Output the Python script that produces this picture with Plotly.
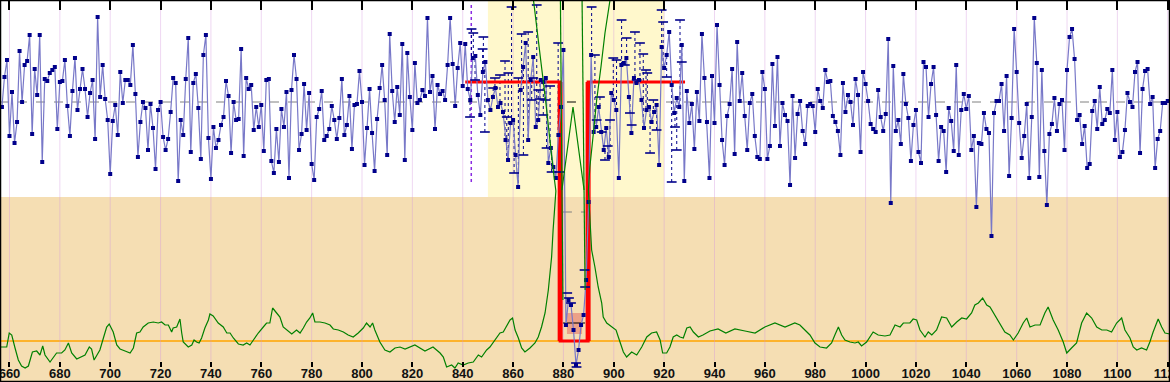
import plotly.graph_objects as go

# ---------------- data ----------------
x_start = 657
blue_v = [
    -5,25,42,-34,10,-41,-20,51,0,37, 41,67,-32,33,7,67,-60,23,21,29,
    32,35,-27,20,21,42,-4,-34,11,44, -8,13,33,13,-15,9,22,-37,85,5,
    37,3,-18,-72,-19,-3,-33,30,-1,22, 22,17,57,8,-55,-20,0,-6,-48,-2,
    -26,-67,-8,0,-35,-48,-37,-10,24,19, -79,-18,-33,23,64,-50,19,28,-6,-57,
    47,67,-36,-77,-25,-46,-38,-23,-15,21, 6,-51,0,-18,-17,53,-54,24,13,17,
    -28,-5,-25,-3,-49,22,23,-59,-71,-27, -60,-7,-25,10,-76,12,47,23,-48,
    -32,18,-28,9,-62,-78,-15,-7,11,-38, -34,-27,-4,-18,-37,-16,23,-33,-23,6,
    -47,-3,-2,31,0,-63,-26,13,-31,-69, -17,14,37,2,-53,68,11,-20,15,-13,
    58,-58,49,5,-28,39,-1,2,12,6, 84,10,26,-27,17,8,11,2,37,84,
    38,-4,34,59,16,58,13,
    2,44,46,7,-13,30,40,2,-8,5, 14,-5,-1,-10,-38,-58,-21,-18,-53,-85,
    12,35,59,-38,22,45,-25,-18,22,20, 24,-61,-46,-65,-76,-33,-5,52,
    -223,-198,-203,-228,-263,-248,-223,-213,-178,-100,
    47,-30,-25,-5,-30,-48,-26,-55,9,2, -8,-76,37,39,44,5,-31,24,19,22,
    2,-26,-8,-5,-20,-10,-3,-63,55,34, 47,70,17,-11,4,-5,57,
    -79,11,-21,-2,-47,10,-19,68,24,-20, -76,26,-21,77,17,-38,-63,-14,-2,33,
    -52,60,1,29,-14,-48,-1,8,-34,-55, -57,30,13,-57,-44,38,-24,45,-44,-1,
    -13,-19,-83,6,-56,-12,1,-29,-42,-4, -2,-4,-30,13,1,-6,32,20,21,-14,
    -20,-29,-53,19,-10,7,0,-23,23,7, -50,30,18,1,-22,-27,-30,12,-15,-29,
    -12,63,-101,36,-29,-18,-42,28,-2,-16, -59,-23,-8,-50,-61,40,35,-15,18,35,
    -13,-59,-25,-29,-70,-6,-19,-49,37,-53, -8,8,-7,6,-48,-34,-105,-41,-42,-11,
    -27,-31,-134,-11,1,1,18,-29,26,-74, -16,73,30,-21,-56,-34,-2,-76,-15,84,
    39,-75,32,-49,-103,
    -32,-22,4,-29,-2,2,-48,32,65,73, 43,-18,-13,-42,-24,-66,-62,-9,1,-27,
    15,-22,-18,-7,-11,32,-38,-10,-55,-50, -28,9,0,-5,30,40,-51,13,31,33,
    -2,5,-66,-37,-29,-1,-1,1,
]
blue_x = [x_start + i for i in range(len(blue_v))]

# short horizontal dash markers inside the highlighted window
dash_x = [843.5,844.2,842.9,844.9,847.9,848.2,848.8,852.1,852.8,854.8,856.8,857.5,858.1,
          859.4,860.4,862.1,863.4,864.1,866.0,867.4,868.0,869.4,870.0,870.7,872.0,872.7,
          873.3,874.7,875.3,877.9,878.6,
          891.2,892.5,893.2,894.5,895.2,896.5,897.6,898.5,899.8,901.1,903.1,904.4,905.1,
          906.4,907.1,908.4,909.1,910.4,911.7,912.8,913.3,914.4,915.7,917.0,919.0,919.6,
          921.0,923.0,924.3,925.0,926.3,927.0]
dash_v = [73,69,-15,22,53,65,-30,14,24,27,41,-15,29,95,-71,24,68,-53,70,2,24,97,12,3,-13,2,
          -46,16,-70,59,-70,
          95,47,-18,5,-30,-58,-44,-18,44,42,82,37,64,-11,-23,70,22,59,48,32,29,-51,2,-28,
          92,80,25,-80,-25,-48,82,40]
gap_dash_x = [881.5,882.2,883.0,888.4,888.6,885.0,885.2]
gap_dash_v = [-191,-196,-201,-168,-185,-261,-265]

# red step outline (window level)
red_x = [841, 878.7, 878.7, 889.8, 889.8, 928.3]
red_v = [20, 20, -239, -239, 20, 20]

# green curve (lower panel scale, 0 = orange reference line)
green_left_x = [656.2,658.9,659.9,660.9,662.2,663.5,664.8,666.2,667.5,669.1,670.8,672.1,673.2,674.1,676.1,
    677.4,678.7,680.7,682.0,683.4,684.7,686.7,688.7,690.0,691.7,692.6,693.6,695.9,697.3,698.6,
    699.6,701.2,702.6,703.9,705.9,707.9,709.2,710.5,711.8,713.1,715.1,717.1,719.1,720.4,721.8,
    723.1,724.4,725.0,726.4,727.7,728.4,729.0,731.0,732.4,733.3,734.3,735.3,736.3,737.6,739.0,
    739.6,740.9,742.9,744.9,746.3,747.6,748.9,750.9,752.8,754.2,755.5,756.8,758.8,760.8,762.1,
    763.4,764.5,766.1,767.4,768.7,770.3,772.1,774.0,775.4,776.7,778.0,779.3,780.4,781.3,783.3,
    785.3,787.3,788.6,790.6,792.6,794.5,796.5,798.5,800.5,801.8,803.2,804.2,805.1,807.1,809.1,
    811.1,813.1,815.1,817.1,821.0,825.0,828.2,
    831.0,832.3,833.6,835.6,836.9,838.2,840.2,842.2,844.2,846.2,847.5,849.5,850.8,852.8,854.8,
    856.1,857.5,858.8,859.8,860.8,862.1,863.4,864.7,866.7,868.7,870.0,871.3,872.7,874.0,875.3,
    875.9,876.6,877.0,
    875.8,874.4,872.9,871.3,869.6,868.1]
green_left_v = [-6,-6,8,6,-7,-19,-25,-27,-25,-11,-10,-14,-5,-14,-21,
    -16,-12,-12,-9,-2,-12,-18,-16,-14,-6,-8,-19,-9,3,14,
    17,9,-4,-8,-10,-12,-7,8,9,14,18,19,18,19,16,
    16,9,13,14,22,8,-1,-6,-4,1,-1,-2,3,13,21,
    27,25,18,14,8,8,3,-3,-4,-2,-4,1,8,14,18,
    18,33,28,24,14,11,7,11,8,13,19,23,28,19,19,
    18,16,12,11,9,6,4,8,13,18,14,18,11,-1,-9,
    -11,-7,-6,-8,-4,-10,-6,
    -12,-16,-26,-24,-27,-22,-24,-22,-21,-14,-16,-9,-6,1,8,
    9,16,21,23,11,3,-7,-11,-7,-2,4,14,28,51,84,
    111,138,150,
    174,208,241,274,308,341]
green_mid1_x = [878.8, 879.4, 879.8]
green_mid1_v = [341, 151, 41]
green_peak_x = [879.4, 883.8, 888.2]
green_peak_v = [151, 234, 151]
green_mid2_x = [887.4, 888.2, 888.6]
green_mid2_v = [341, 151, 51]
green_right_x = [898.5,896.5,894.9,893.2,891.9,890.5,889.9,
    890.5,891.2,892.5,893.8,895.2,895.8,897.2,899.1,900.9,901.8,903.8,905.1,907.1,909.1,911.1,
    913.1,915.0,917.0,918.4,919.4,921.0,922.3,923.6,925.0,926.3,927.6,929.0,930.3,931.6,933.6,
    935.4,938.2,941.4,944.5,948.1,952.1,956.1,960.0,964.0,968.0,971.9,
    973.9,975.9,977.9,979.9,981.9,984.5,986.5,987.8,989.2,990.5,991.8,993.8,995.8,997.1,998.4,
    1000.4,1001.7,1003.0,1005.0,1007.7,1009.7,1011.7,1013.7,1015.0,1016.3,1017.6,1018.9,1020.3,
    1021.6,1023.6,1024.9,1026.3,1028.2,1030.2,1032.2,1034.2,1036.2,1038.2,1040.1,1042.1,1043.4,
    1044.8,1046.5,1048.1,1049.4,1051.4,1053.4,1055.3,1057.3,1058.7,1060.6,1062.6,1064.0,1065.3,
    1067.3,1069.3,1071.2,1072.5,1074.5,1076.5,1078.5,1079.9,1081.8,1083.8,1085.8,1087.8,1089.8,
    1091.8,1093.8,1095.8,1097.7,1099.7,1101.7,1103.0,1105.0,1106.3,1107.7,1109.6,1111.6,1112.9,
    1114.2,1116.2,1117.6,1118.9,1120.9]
green_right_v = [341,308,274,241,208,174,151,
    118,91,74,54,38,24,18,14,11,4,-11,-16,-11,-14,-6,
    4,8,9,1,-12,-12,-6,4,6,4,3,13,14,9,4,
    6,10,12,8,12,10,8,14,18,14,18,
    16,11,6,-2,-6,-7,-2,6,14,6,1,-1,-2,-1,-5,
    -1,4,9,6,5,6,16,14,18,18,18,22,21,
    11,4,9,6,11,24,23,14,19,23,22,28,36,
    38,43,36,34,26,18,9,6,1,8,18,23,14,
    16,16,28,34,21,11,-1,-12,-7,-2,18,28,23,
    14,11,11,9,18,23,11,3,-6,-9,-7,-9,-1,
    9,22,14,8,7]

tick_vals = list(range(660, 1121, 20))
x_range = [656.23, 1120.9]
band = [850, 920]          # highlighted window
upper_floor = -95          # bottom of the white upper panel (blue scale)
grid_floor = -259

assert len(green_left_x) == len(green_left_v)
assert len(green_right_x) == len(green_right_v)
assert len(dash_x) == len(dash_v)

NAVY = "#00008B"

# ---------------- figure ----------------
fig = go.Figure()

def join(*segs):
    xs, ys = [], []
    for sx, sy in segs:
        if xs:
            xs.append(None); ys.append(None)
        xs += list(sx); ys += list(sy)
    return xs, ys

gx, gy = join((green_left_x, green_left_v), (green_mid1_x, green_mid1_v),
              (green_peak_x, green_peak_v), (green_mid2_x, green_mid2_v),
              (green_right_x, green_right_v))
fig.add_trace(go.Scatter(x=gx, y=gy, yaxis="y2", mode="lines",
                         line=dict(color="#008000", width=1.2), hoverinfo="skip"))

# dotted connectors from dashes to the series
cx, cy = [], []
for x, v in zip(dash_x, dash_v):
    i = int(round(x)) - x_start
    cx += [x, x, None]
    cy += [v, blue_v[i], None]
fig.add_trace(go.Scatter(x=cx, y=cy, mode="lines",
                         line=dict(color=NAVY, width=1, dash="dot"), hoverinfo="skip"))

# red step outline
fig.add_trace(go.Scatter(x=red_x, y=red_v, mode="lines",
                         line=dict(color="#FF0000", width=3), hoverinfo="skip"))
fig.add_trace(go.Scatter(x=[red_x[1], red_x[2], None, red_x[3], red_x[4]],
                         y=[red_v[1], red_v[2], None, red_v[3], red_v[4]], mode="lines",
                         line=dict(color="#FF0000", width=5), hoverinfo="skip"))

# main series
fig.add_trace(go.Scatter(x=blue_x, y=blue_v, mode="lines+markers",
                         line=dict(color="#7878C8", width=1.2),
                         marker=dict(symbol="square", size=4, color=NAVY), hoverinfo="skip"))

# dashes
fig.add_trace(go.Scatter(x=dash_x + gap_dash_x, y=dash_v + gap_dash_v, mode="markers",
                         marker=dict(symbol="line-ew", size=7, line=dict(color=NAVY, width=1.6)),
                         hoverinfo="skip"))

# dummy traces for the tick-only axes
fig.add_trace(go.Scatter(x=[None], y=[None], xaxis="x2", showlegend=False))
fig.add_trace(go.Scatter(x=[None], y=[None], xaxis="x3", showlegend=False))

shapes = []
shapes.append(dict(type="rect", xref="paper", yref="y", x0=0, x1=1, y0=upper_floor, y1=102,
                   fillcolor="white", line=dict(width=0), layer="below"))
shapes.append(dict(type="rect", xref="x", yref="y", x0=band[0], x1=band[1], y0=upper_floor, y1=102,
                   fillcolor="#FFF8CC", line=dict(width=0), layer="below"))
for t in tick_vals:
    shapes.append(dict(type="line", xref="x", yref="y", x0=t, x1=t, y0=grid_floor, y1=102,
                       line=dict(color="rgba(210,150,220,0.38)", width=1), layer="below"))
shapes.append(dict(type="line", xref="paper", yref="y", x0=0, x1=1, y0=0, y1=0,
                   line=dict(color="#808080", width=1, dash="dash"), layer="below"))
shapes.append(dict(type="line", xref="paper", yref="y2", x0=0, x1=1, y0=0, y1=0,
                   line=dict(color="#FFA500", width=1.3), layer="below"))
shapes.append(dict(type="line", xref="x", yref="y", x0=843.4, x1=843.4, y0=-80, y1=98,
                   line=dict(color="#8A2BE2", width=1.5, dash="dot"), layer="below"))
shapes.append(dict(type="rect", xref="x", yref="y", x0=881.4, x1=887.4, y0=-232, y1=-211,
                   fillcolor="rgba(232,140,120,0.75)", line=dict(width=0), layer="below"))
shapes.append(dict(type="line", xref="x", yref="y", x0=879.8, x1=888.6, y0=-221, y1=-221,
                   line=dict(color="black", width=1), layer="below"))
shapes.append(dict(type="line", xref="x", yref="y", x0=879.8, x1=888.6, y0=-110, y1=-110,
                   line=dict(color="#808080", width=1, dash="dash"), layer="below"))
shapes.append(dict(type="line", xref="x", yref="y", x0=881.4, x1=887.4, y0=0, y1=0,
                   line=dict(color="black", width=1, dash="dash"), layer="below"))
shapes.append(dict(type="rect", xref="paper", yref="paper", x0=0, x1=1, y0=0, y1=1,
                   line=dict(color="black", width=2.5), fillcolor="rgba(0,0,0,0)"))

fig.update_layout(
    width=1170, height=382,
    margin=dict(l=0, r=0, t=0, b=0, pad=0, autoexpand=False),
    paper_bgcolor="#F5DEB3", plot_bgcolor="#F5DEB3",
    showlegend=False,
    shapes=shapes,
    xaxis=dict(range=x_range, tickvals=tick_vals, anchor="free", position=1 - 364 / 382,
               side="bottom", ticks="", showgrid=False, zeroline=False, showline=False,
               automargin=False, ticklabelstandoff=0, ticklabeloverflow="allow",
               tickfont=dict(family="Liberation Sans Narrow, Arial Narrow, sans-serif",
                             size=13, color="#111111", weight="bold")),
    xaxis2=dict(overlaying="x", matches="x", side="top", anchor="y", tickvals=tick_vals,
                ticks="inside", ticklen=10, tickwidth=2, tickcolor="black", automargin=False,
                showticklabels=False, showgrid=False, zeroline=False, showline=False),
    xaxis3=dict(overlaying="x", matches="x", anchor="free", position=1 - 361 / 382, side="bottom",
                tickvals=tick_vals, ticks="outside", ticklen=5, tickwidth=1.5, tickcolor="black",
                automargin=False,
                showticklabels=False, showgrid=False, zeroline=False, showline=False),
    yaxis=dict(range=[-280, 102], visible=False, fixedrange=True, automargin=False),
    yaxis2=dict(range=[-41, 341], overlaying="y", visible=False, automargin=False),
)

fig.write_html("out.html", config={"displayModeBar": False},
               post_script="document.body.style.margin='0';document.body.style.padding='0';"
                           "document.body.style.overflow='hidden';")
